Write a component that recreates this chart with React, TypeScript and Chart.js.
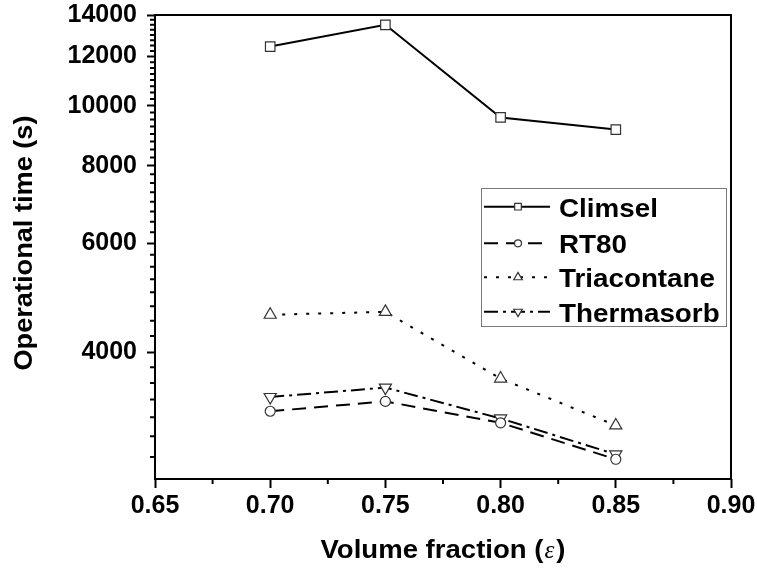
import React, { useEffect, useRef } from "react";
import { Chart, registerables } from "chart.js";
Chart.register(...registerables);

// ---- data ----
const xValues = [0.7, 0.75, 0.8, 0.85];
const climsel = [12450, 13500, 9570, 9150];
const rt80 = [3215, 3335, 3080, 2690];
const triacontane = [4600, 4650, 3630, 3050];
const thermasorb = [3390, 3510, 3130, 2740];
const seriesLabels = ["Climsel", "RT80", "Triacontane", "Thermasorb"];

const xTicks = [0.65, 0.7, 0.75, 0.8, 0.85, 0.9];
const xMinorTicks = [0.675, 0.725, 0.775, 0.825, 0.875];
const yTicks = [4000, 6000, 8000, 10000, 12000, 14000];
const yMinorTicks = [
  2714, 2929, 3143, 3357, 3571, 3786,
  4250, 4500, 4750, 5000, 5250, 5500, 5750,
  6250, 6500, 6750, 7000, 7250, 7500, 7750,
  8250, 8500, 8750, 9000, 9250, 9500, 9750,
  10250, 10500, 10750, 11000, 11250, 11500, 11750,
  12250, 12500, 12750, 13000, 13250, 13500, 13750,
];
const xTitle = "Volume fraction (";
const xTitleSymbol = "\u03B5";
const yTitle = "Operational time (s)";

const dashes: number[][] = [[], [14, 8], [3, 9], [14, 5, 3, 5]];
const styles = ["rect", "circle", "triangle", "triangle"];
const rotations = [0, 0, 0, 180];
const radii = [6.7, 5, 7, 7];

function stretchText(
  ctx: CanvasRenderingContext2D,
  text: string,
  x: number,
  y: number,
  sx: number
) {
  ctx.save();
  ctx.translate(x, y);
  ctx.scale(sx, 1);
  ctx.fillText(text, 0, 0);
  ctx.restore();
}

function drawMarker(
  ctx: CanvasRenderingContext2D,
  kind: number,
  x: number,
  y: number,
  r: number
) {
  ctx.save();
  ctx.setLineDash([]);
  ctx.fillStyle = "#fff";
  ctx.strokeStyle = "#333";
  ctx.lineWidth = 1.2;
  ctx.beginPath();
  if (kind === 0) {
    const s = r * Math.SQRT1_2;
    ctx.rect(x - s, y - s, 2 * s, 2 * s);
  } else if (kind === 1) {
    ctx.arc(x, y, r, 0, Math.PI * 2);
  } else {
    const dir = kind === 3 ? -1 : 1;
    ctx.moveTo(x, y - dir * r);
    ctx.lineTo(x + r * 0.866, y + dir * r * 0.5);
    ctx.lineTo(x - r * 0.866, y + dir * r * 0.5);
    ctx.closePath();
  }
  ctx.fill();
  ctx.stroke();
  ctx.restore();
}

const extrasPlugin = {
  id: "extras",
  afterDraw(chart: any) {
    const { ctx, chartArea: a } = chart;
    const xs = chart.scales.x;
    const ys = chart.scales.y;
    ctx.save();
    // frame
    ctx.strokeStyle = "#000";
    ctx.lineWidth = 2;
    ctx.setLineDash([]);
    ctx.strokeRect(a.left, a.top, a.right - a.left, a.bottom - a.top);
    // minor ticks
    ctx.beginPath();
    for (const v of xMinorTicks) {
      const px = xs.getPixelForValue(v);
      ctx.moveTo(px, a.bottom);
      ctx.lineTo(px, a.bottom + 5);
    }
    for (const v of yMinorTicks) {
      const py = ys.getPixelForValue(v);
      ctx.moveTo(a.left, py);
      ctx.lineTo(a.left - 5, py);
    }
    ctx.stroke();

    // x title
    ctx.fillStyle = "#000";
    ctx.textBaseline = "alphabetic";
    ctx.textAlign = "left";
    const sx = 1.08;
    const fB = "bold 25.5px 'Liberation Sans', Arial, sans-serif";
    const fE = "italic 25px 'Liberation Serif', 'Times New Roman', serif";
    ctx.font = fB;
    const w1 = ctx.measureText(xTitle).width * sx;
    const w3 = ctx.measureText(")").width * sx;
    ctx.font = fE;
    const w2 = ctx.measureText(xTitleSymbol).width + 3;
    const total = w1 + w2 + w3;
    const tx = 443 - total / 2;
    const ty = 558;
    ctx.font = fB;
    stretchText(ctx, xTitle, tx, ty, sx);
    ctx.font = fE;
    ctx.fillText(xTitleSymbol, tx + w1 + 1, ty);
    ctx.font = fB;
    stretchText(ctx, ")", tx + w1 + w2, ty, sx);

    // y title
    ctx.save();
    ctx.translate(32, 243);
    ctx.rotate(-Math.PI / 2);
    ctx.font = fB;
    const yw = ctx.measureText(yTitle).width * 1.065;
    stretchText(ctx, yTitle, -yw / 2, 0, 1.065);
    ctx.restore();

    // legend
    ctx.strokeStyle = "#7a7a7a";
    ctx.lineWidth = 1;
    ctx.strokeRect(481.5, 188.5, 245, 138);
    const baselines = [216.7, 252.7, 286.7, 321.7];
    const lineYs = [206.7, 243.3, 277.3, 311.7];
    chart.data.datasets.forEach((ds: any, i: number) => {
      const ly = lineYs[i];
      ctx.save();
      ctx.strokeStyle = "#000";
      ctx.lineWidth = 2;
      ctx.setLineDash(dashes[i]);
      ctx.beginPath();
      ctx.moveTo(484, ly);
      ctx.lineTo(550, ly);
      ctx.stroke();
      ctx.restore();
      drawMarker(ctx, i, 518, ly, radii[i] * 0.7);
      ctx.fillStyle = "#000";
      ctx.font = fB;
      stretchText(ctx, ds.label, 559, baselines[i], 1.09);
    });
    ctx.restore();
  },
};

function zeroPad(s: any) {
  s.paddingTop = 0;
  s.paddingBottom = 0;
  s.paddingLeft = 0;
  s.paddingRight = 0;
}

export default function App() {
  const ref = useRef<HTMLCanvasElement | null>(null);
  useEffect(() => {
    document.body.style.margin = "0";
    const canvas = ref.current;
    if (!canvas) return;
    const series = [climsel, rt80, triacontane, thermasorb];
    const chart = new Chart(canvas, {
      type: "line",
      data: {
        datasets: series.map((vals, i) => ({
          label: seriesLabels[i],
          data: xValues.map((x, j) => ({ x, y: vals[j] })),
          borderColor: "#000",
          borderWidth: 2,
          borderDash: dashes[i],
          pointStyle: styles[i] as any,
          pointRotation: rotations[i],
          pointRadius: radii[i],
          pointBackgroundColor: "#fff",
          pointBorderColor: "#333",
          pointBorderWidth: 1.2,
          tension: 0,
          fill: false,
        })),
      },
      options: {
        responsive: false,
        animation: false,
        devicePixelRatio: 1,
        clip: false as any,
        layout: { padding: { top: 15, right: 26, left: 0, bottom: 0 } },
        plugins: { legend: { display: false }, tooltip: { enabled: false } },
        scales: {
          x: {
            type: "linear",
            min: 0.65,
            max: 0.9,
            afterBuildTicks: (s: any) => {
              s.ticks = xTicks.map((v) => ({ value: v }));
            },
            afterFit: (s: any) => {
              s.height = 92;
              zeroPad(s);
            },
            border: { display: false },
            grid: {
              display: true,
              drawOnChartArea: false,
              drawTicks: true,
              tickLength: 9,
              tickColor: "#000",
              tickWidth: 2,
            },
            ticks: {
              autoSkip: false,
              maxRotation: 0,
              padding: 3,
              color: "#000",
              font: { family: "'Liberation Sans', Arial, sans-serif", size: 25, weight: "bold" },
              callback: (v: any) => Number(v).toFixed(2),
            },
          },
          y: {
            type: "logarithmic",
            min: 2500,
            max: 14000,
            afterBuildTicks: (s: any) => {
              s.ticks = yTicks.map((v) => ({ value: v }));
            },
            afterFit: (s: any) => {
              s.width = 155;
              zeroPad(s);
            },
            border: { display: false },
            grid: {
              display: true,
              drawOnChartArea: false,
              drawTicks: true,
              tickLength: 8,
              tickColor: "#000",
              tickWidth: 2,
            },
            ticks: {
              autoSkip: false,
              padding: 10,
              color: "#000",
              font: { family: "'Liberation Sans', Arial, sans-serif", size: 25, weight: "bold" },
              callback: (v: any) => String(Math.round(Number(v))),
            },
          },
        },
      },
      plugins: [extrasPlugin],
    });
    return () => chart.destroy();
  }, []);
  return (
    <canvas
      ref={ref}
      width={757}
      height={571}
      style={{ display: "block", width: 757, height: 571 }}
    />
  );
}
